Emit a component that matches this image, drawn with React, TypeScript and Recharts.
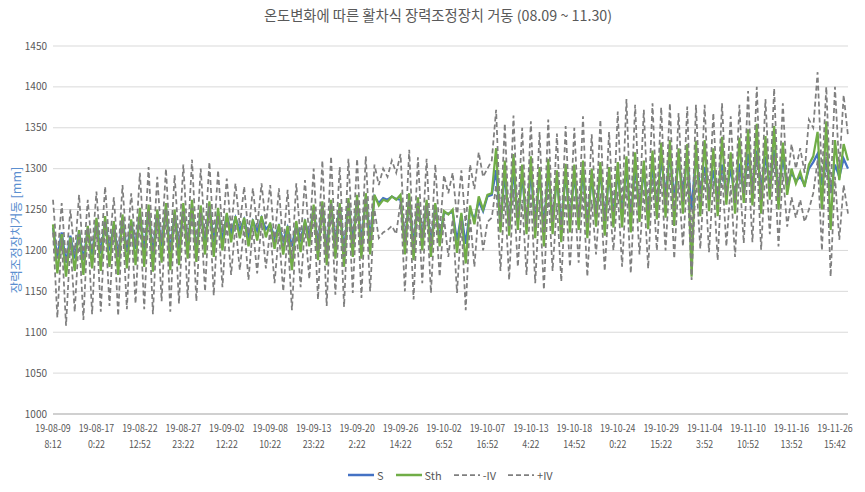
import { LineChart, Line, XAxis, YAxis, CartesianGrid } from 'recharts'

// x tick labels (every 10th point)
const tickDates = [
  '19-08-09', '19-08-17', '19-08-22', '19-08-27', '19-09-02', '19-09-08', '19-09-13',
  '19-09-20', '19-09-26', '19-10-02', '19-10-07', '19-10-13', '19-10-18', '19-10-24',
  '19-10-29', '19-11-04', '19-11-10', '19-11-16', '19-11-26',
]
const tickTimes = [
  '8:12', '0:22', '12:52', '23:22', '12:22', '10:22', '23:22', '2:22', '14:22', '6:52',
  '16:52', '4:22', '14:52', '0:22', '15:22', '3:52', '10:52', '13:52', '15:42',
]

// S [mm]
const sVals = [
  1228, 1192, 1222, 1185, 1218, 1190, 1224, 1188, 1226, 1195,
  1236, 1196, 1238, 1200, 1232, 1192, 1240, 1198, 1236, 1202,
  1245, 1200, 1250, 1195, 1248, 1205, 1252, 1198, 1246, 1202,
  1252, 1205, 1255, 1200, 1250, 1208, 1256, 1210, 1248, 1212,
  1244, 1222, 1240, 1225, 1238, 1218, 1236, 1224, 1240, 1226,
  1232, 1216, 1230, 1212, 1228, 1205, 1232, 1214, 1235, 1218,
  1252, 1205, 1256, 1200, 1258, 1208, 1255, 1198, 1260, 1210,
  1262, 1210, 1265, 1215, 1266, 1258, 1264, 1262, 1266, 1263,
  1262, 1210, 1264, 1205, 1260, 1215, 1258, 1208, 1255, 1215,
  1246, 1245, 1247, 1212, 1244, 1208, 1250, 1238, 1260, 1248,
  1266, 1268, 1298, 1232, 1295, 1228, 1300, 1235, 1292, 1230,
  1296, 1232, 1292, 1228, 1298, 1235, 1290, 1230, 1294, 1236,
  1292, 1238, 1295, 1232, 1290, 1240, 1298, 1236, 1292, 1242,
  1296, 1245, 1300, 1240, 1302, 1248, 1298, 1244, 1305, 1250,
  1312, 1270, 1315, 1265, 1310, 1272, 1314, 1250, 1316, 1274,
  1302, 1266, 1298, 1262, 1305, 1268, 1300, 1264, 1306, 1270,
  1318, 1276, 1322, 1274, 1315, 1278, 1323, 1272, 1312, 1280,
  1295, 1285, 1290, 1280, 1300, 1308, 1318, 1280, 1310, 1270,
  1305, 1290, 1312, 1300,
]

// Sth [mm]
const sthVals = [
  1232, 1172, 1220, 1168, 1216, 1175, 1225, 1170, 1230, 1178,
  1240, 1175, 1242, 1180, 1236, 1170, 1244, 1178, 1238, 1182,
  1252, 1180, 1256, 1174, 1250, 1185, 1258, 1176, 1250, 1182,
  1258, 1190, 1262, 1186, 1255, 1195, 1260, 1192, 1252, 1200,
  1246, 1210, 1242, 1215, 1240, 1205, 1238, 1212, 1242, 1216,
  1234, 1202, 1232, 1195, 1230, 1176, 1236, 1198, 1238, 1205,
  1256, 1188, 1260, 1182, 1262, 1190, 1258, 1180, 1264, 1192,
  1268, 1190, 1270, 1195, 1268, 1255, 1262, 1260, 1266, 1262,
  1268, 1195, 1270, 1188, 1265, 1200, 1262, 1192, 1258, 1205,
  1248, 1244, 1250, 1197, 1246, 1184, 1255, 1232, 1266, 1250,
  1268, 1270, 1325, 1222, 1310, 1218, 1318, 1225, 1305, 1220,
  1315, 1215, 1302, 1205, 1312, 1220, 1298, 1210, 1306, 1222,
  1305, 1225, 1310, 1215, 1300, 1229, 1308, 1218, 1302, 1228,
  1308, 1228, 1315, 1222, 1320, 1235, 1310, 1226, 1322, 1238,
  1332, 1240, 1335, 1230, 1325, 1245, 1330, 1168, 1334, 1242,
  1335, 1248, 1325, 1242, 1339, 1256, 1320, 1245, 1338, 1258,
  1348, 1255, 1355, 1245, 1340, 1262, 1352, 1250, 1332, 1268,
  1300, 1282, 1296, 1278, 1305, 1315, 1345, 1250, 1358, 1225,
  1335, 1286, 1330, 1310,
]

// -IV [mm]
const ivMinus = [
  1222, 1118, 1215, 1108, 1210, 1125, 1220, 1115, 1228, 1122,
  1230, 1125, 1236, 1132, 1226, 1120, 1238, 1128, 1232, 1135,
  1242, 1128, 1248, 1122, 1240, 1138, 1250, 1125, 1244, 1135,
  1248, 1142, 1252, 1138, 1246, 1150, 1254, 1145, 1242, 1155,
  1236, 1170, 1232, 1176, 1230, 1164, 1228, 1172, 1234, 1178,
  1226, 1160, 1222, 1150, 1220, 1127, 1228, 1155, 1230, 1165,
  1250, 1140, 1255, 1132, 1258, 1146, 1252, 1131, 1260, 1148,
  1262, 1142, 1265, 1150, 1250, 1215, 1222, 1225, 1230, 1220,
  1260, 1150, 1262, 1140, 1258, 1160, 1255, 1148, 1250, 1168,
  1240, 1192, 1238, 1148, 1236, 1127, 1240, 1180, 1250, 1200,
  1235, 1240, 1280, 1175, 1268, 1164, 1275, 1180, 1262, 1170,
  1270, 1160, 1262, 1152, 1275, 1175, 1258, 1162, 1268, 1180,
  1268, 1185, 1272, 1168, 1262, 1195, 1270, 1175, 1265, 1200,
  1272, 1180, 1280, 1172, 1285, 1195, 1275, 1178, 1288, 1200,
  1290, 1200, 1295, 1190, 1285, 1205, 1290, 1164, 1292, 1202,
  1295, 1198, 1285, 1188, 1298, 1205, 1280, 1192, 1296, 1209,
  1310, 1210, 1318, 1201, 1302, 1220, 1315, 1205, 1295, 1229,
  1265, 1240, 1262, 1235, 1250, 1270, 1310, 1200, 1320, 1168,
  1290, 1213, 1280, 1245,
]

// +IV [mm]
const ivPlus = [
  1262, 1190, 1258, 1185, 1250, 1195, 1268, 1188, 1262, 1200,
  1272, 1198, 1278, 1205, 1265, 1192, 1280, 1200, 1270, 1206,
  1295, 1205, 1302, 1198, 1290, 1210, 1300, 1202, 1292, 1208,
  1305, 1212, 1311, 1208, 1300, 1218, 1308, 1215, 1298, 1222,
  1288, 1225, 1282, 1230, 1278, 1220, 1276, 1228, 1282, 1232,
  1280, 1210, 1276, 1205, 1274, 1190, 1282, 1212, 1286, 1215,
  1300, 1200, 1310, 1195, 1315, 1205, 1302, 1192, 1312, 1208,
  1312, 1205, 1315, 1210, 1305, 1280, 1300, 1290, 1310, 1295,
  1318, 1210, 1323, 1200, 1314, 1215, 1312, 1205, 1305, 1220,
  1292, 1270, 1295, 1240, 1298, 1230, 1305, 1275, 1320, 1290,
  1300, 1310, 1372, 1235, 1355, 1230, 1365, 1240, 1350, 1232,
  1358, 1228, 1345, 1222, 1360, 1235, 1343, 1225, 1352, 1238,
  1350, 1240, 1364, 1232, 1342, 1245, 1360, 1236, 1345, 1246,
  1370, 1250, 1385, 1245, 1378, 1255, 1372, 1248, 1380, 1258,
  1375, 1255, 1380, 1248, 1368, 1260, 1376, 1210, 1378, 1258,
  1378, 1262, 1368, 1256, 1380, 1268, 1364, 1258, 1378, 1270,
  1395, 1270, 1400, 1262, 1385, 1275, 1398, 1265, 1380, 1280,
  1330, 1300, 1325, 1295, 1360, 1350, 1418, 1290, 1400, 1270,
  1400, 1300, 1390, 1340,
]

const yTicks = [1000, 1050, 1100, 1150, 1200, 1250, 1300, 1350, 1400, 1450]

const data = sVals.map((s, i) => ({
  i,
  s,
  sth: sthVals[i],
  lo: ivMinus[i],
  hi: ivPlus[i],
}))

const xTicks = tickDates.map((_, k) => k * 10)

const FONT = '"Noto Sans CJK KR", "Noto Sans", sans-serif'
const TEXT = '#595959'

function DateTick(props: any) {
  const { x, y, payload } = props
  const k = Math.round(payload.value / 10)
  // narrow the labels a bit, the original font is condensed
  return (
    <g transform={`translate(${x},${y}) scale(0.84,1)`}>
      <text x={0} y={0} textAnchor="middle" fill={TEXT} fontSize={10.5} fontFamily={FONT}>
        <tspan x={0} dy="0.9em">{tickDates[k]}</tspan>
        <tspan x={0} dy="1.5em">{tickTimes[k]}</tspan>
      </text>
    </g>
  )
}

function LegendItem({ color, dashed, label }: { color: string; dashed?: boolean; label: string }) {
  return (
    <div style={{ display: 'flex', alignItems: 'center', marginRight: 12 }}>
      <svg width={26} height={6}>
        <line
          x1={0}
          y1={3}
          x2={26}
          y2={3}
          stroke={color}
          strokeWidth={dashed ? 1.75 : 2.5}
          strokeDasharray={dashed ? '5 3' : undefined}
        />
      </svg>
      <span style={{ marginLeft: 3 }}>{label}</span>
    </div>
  )
}

export default function App() {
  return (
    <div style={{ position: 'absolute', left: 0, top: 0, width: 865, height: 492, background: '#fff', fontFamily: FONT }}>
      <div style={{ position: 'absolute', top: 4, left: 0, width: 876, textAlign: 'center', fontSize: 14.3, color: TEXT }}>
        온도변화에 따른 활차식 장력조정장치 거동 (08.09 ~ 11.30)
      </div>
      <div
        style={{
          position: 'absolute',
          left: 15,
          top: 230,
          transform: 'translate(-50%, -50%) rotate(-90deg)',
          whiteSpace: 'nowrap',
          fontSize: 12.5,
          color: '#5b8fd0',
        }}
      >
        장력조정장치거동 [mm]
      </div>
      <LineChart width={865} height={492} data={data} margin={{ top: 46, right: 17, bottom: 38, left: 0 }}>
        <CartesianGrid vertical={false} stroke="#d9d9d9" />
        <XAxis
          dataKey="i"
          type="number"
          domain={[0, 183]}
          ticks={xTicks}
          interval={0}
          height={40}
          tick={<DateTick />}
          tickLine={false}
          tickSize={0}
          tickMargin={9}
          axisLine={{ stroke: '#d0d0d0', strokeWidth: 2 }}
        />
        <YAxis
          width={53}
          domain={[1000, 1450]}
          ticks={yTicks}
          interval={0}
          axisLine={false}
          tickLine={false}
          tickSize={0}
          tickMargin={6}
          tick={{ fontSize: 10, fill: TEXT, fontFamily: FONT }}
        />
        <Line dataKey="s" stroke="#4472c4" strokeWidth={2.25} dot={false} isAnimationActive={false} />
        <Line dataKey="sth" stroke="#70ad47" strokeWidth={2.25} dot={false} isAnimationActive={false} />
        <Line dataKey="lo" stroke="#7f7f7f" strokeWidth={1.75} strokeDasharray="5 3" dot={false} isAnimationActive={false} />
        <Line dataKey="hi" stroke="#7f7f7f" strokeWidth={1.75} strokeDasharray="5 3" dot={false} isAnimationActive={false} />
      </LineChart>
      <div
        style={{
          position: 'absolute',
          top: 467,
          left: 348,
          display: 'flex',
          alignItems: 'center',
          fontSize: 11,
          color: TEXT,
        }}
      >
        <LegendItem color="#4472c4" label="S" />
        <LegendItem color="#70ad47" label="Sth" />
        <LegendItem color="#7f7f7f" dashed label="-IV" />
        <LegendItem color="#7f7f7f" dashed label="+IV" />
      </div>
    </div>
  )
}
